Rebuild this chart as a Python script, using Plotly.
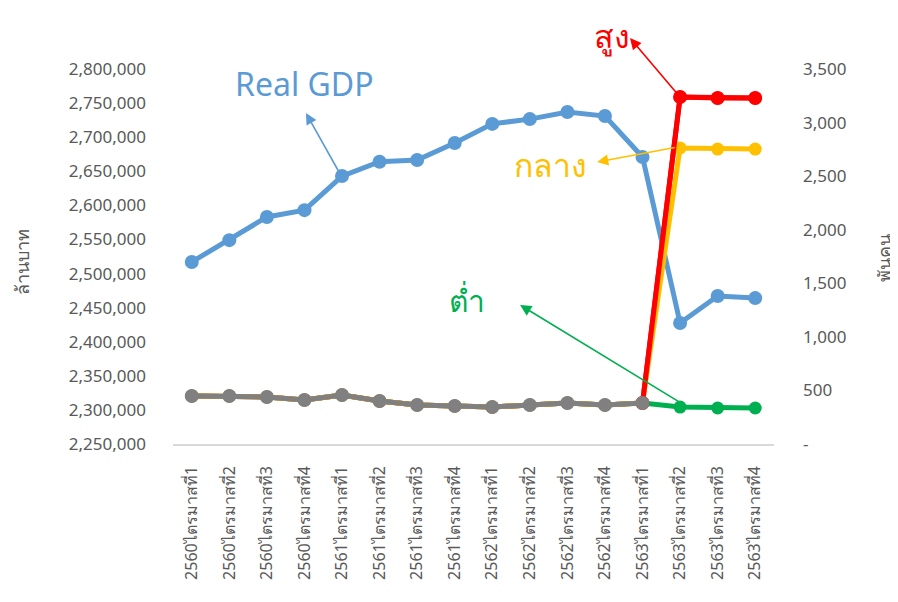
import plotly.graph_objects as go

years = ["2560", "2560", "2560", "2560", "2561", "2561", "2561", "2561",
         "2562", "2562", "2562", "2562", "2563", "2563", "2563", "2563"]
quarters = ["1", "2", "3", "4"] * 4
categories = [f"{y}ไตรมาสที่{q}" for y, q in zip(years, quarters)]

real_gdp = [2517000, 2549000, 2583000, 2593000, 2643000, 2664000, 2666500, 2691500,
            2719500, 2726500, 2737000, 2731000, 2671000, 2427500, 2467000, 2464000]

actual = [448, 448, 439, 411, 457, 401, 364, 355, 345, 364, 383, 364, 383]
high = actual + [3239, 3229, 3229]
mid = actual + [2763, 2753, 2753]
low = actual + [345, 336, 336]

right_ticks = [0, 500, 1000, 1500, 2000, 2500, 3000, 3500]
right_text = ["-", "500", "1,000", "1,500", "2,000", "2,500", "3,000", "3,500"]
left_ticks = list(range(2250000, 2800001, 50000))
left_text = [f"{v:,}" for v in left_ticks]

BLUE = "#5B9BD5"
RED = "#FF0000"
YEL = "#FFC000"
GRN = "#00B050"
GRAY = "#808080"
TXT = "#595959"
FONT = "Noto Sans, DejaVu Sans, sans-serif"

fig = go.Figure()
lw = 5
ms = 14
fig.add_trace(go.Scatter(x=categories, y=real_gdp, mode="lines+markers", yaxis="y",
                         line=dict(color=BLUE, width=lw), marker=dict(size=ms, color=BLUE)))
for vals, col in [(low, GRN), (high, RED), (mid, YEL)]:
    fig.add_trace(go.Scatter(x=categories, y=vals, mode="lines+markers", yaxis="y2",
                             line=dict(color=col, width=lw), marker=dict(size=ms - 1, color=col)))
# redraw high forecast segment on top of mid
fig.add_trace(go.Scatter(x=categories[len(actual) - 1:], y=high[len(actual) - 1:],
                         mode="lines+markers", yaxis="y2",
                         line=dict(color=RED, width=lw), marker=dict(size=ms, color=RED)))
fig.add_trace(go.Scatter(x=categories[:len(actual)], y=actual, mode="lines+markers", yaxis="y2",
                         line=dict(color=GRAY, width=lw), marker=dict(size=ms, color=GRAY)))

anns = []

def arrow(x, y, ax, ay, col, yref):
    anns.append(dict(x=x, y=y, ax=ax, ay=ay, xref="x", yref=yref, axref="x", ayref=yref,
                     text="", showarrow=True, arrowhead=2, arrowsize=1.4, arrowwidth=1.6,
                     arrowcolor=col))

arrow(3.04, 2735500, 3.95, 2646000, BLUE, "y")
arrow(10.79, 2632, 12.9, 2770, YEL, "y2")
arrow(8.74, 1297, 13.2, 345, GRN, "y2")
# high arrow (goes above plot area) in paper coordinates
anns.append(dict(x=(630 - 173) / 601, y=(444 - 38) / 375, xref="paper", yref="paper",
                 ax=50, ay=59, axref="pixel", ayref="pixel", text="", showarrow=True,
                 arrowhead=2, arrowsize=1.4, arrowwidth=1.6, arrowcolor=RED))

def label(x, y, t, col, yref, size=32):
    anns.append(dict(x=x, y=y, xref="x", yref=yref, text=t, showarrow=False,
                     font=dict(size=size, color=col, family=FONT)))

label(3.0, 2779000, "Real GDP", BLUE, "y", 32)
label(9.54, 2610, "กลาง", YEL, "y2", 32)
label(7.33, 1340, "ต่ำ", GRN, "y2", 30)
anns.append(dict(x=(612 - 173) / 601, y=(444 - 35) / 375, xref="paper", yref="paper",
                 text="สูง", showarrow=False, xanchor="center", yanchor="middle",
                 font=dict(size=32, color=RED, family=FONT)))

anns.append(dict(x=(22 - 173) / 601, y=(444 - 262) / 375, xref="paper", yref="paper",
                 text="ล้านบาท", showarrow=False, textangle=-90, xanchor="center",
                 yanchor="middle", font=dict(size=18, color=TXT, family=FONT)))
anns.append(dict(x=(884 - 173) / 601, y=(444 - 258) / 375, xref="paper", yref="paper",
                 text="พันคน", showarrow=False, textangle=-90, xanchor="center",
                 yanchor="middle", font=dict(size=18, color=TXT, family=FONT)))

fig.update_layout(
    width=898, height=602,
    margin=dict(l=165, r=132, t=61, b=166, autoexpand=False),
    plot_bgcolor="white", paper_bgcolor="white",
    showlegend=False,
    annotations=anns,
    font=dict(family=FONT, color=TXT, size=16),
    xaxis=dict(type="category", tickangle=-90, showgrid=False, showline=True,
               linecolor="#D9D9D9", linewidth=1.5, ticks="", ticklabelstandoff=14,
               tickfont=dict(size=16, color=TXT), range=[-0.5, 15.5], automargin=False),
    yaxis=dict(range=[2250000, 2800000], tickvals=left_ticks, ticktext=left_text,
               showgrid=False, zeroline=False, showline=False, ticks="",
               ticklabelstandoff=26, tickfont=dict(size=17, color=TXT), automargin=False),
    yaxis2=dict(range=[0, 3500], tickvals=right_ticks, ticktext=right_text,
                overlaying="y", side="right", showgrid=False, zeroline=False,
                showline=False, ticks="", ticklabelstandoff=28,
                tickfont=dict(size=17, color=TXT), automargin=False),
)

fig.write_html("out.html")
